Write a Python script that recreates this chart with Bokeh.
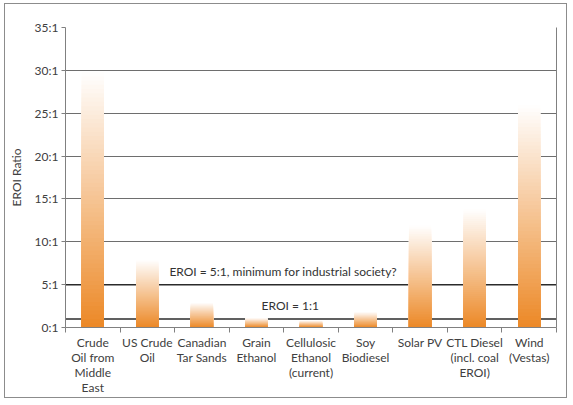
from bokeh.plotting import figure
from bokeh.models import Range1d, LinearAxis, FixedTicker, Span, Label
from bokeh.embed import file_html
from bokeh.resources import INLINE

# data
categories = ["Crude\nOil from\nMiddle\nEast", "US Crude\nOil", "Canadian\nTar Sands",
              "Grain\nEthanol", "Cellulosic\nEthanol\n(current)", "Soy\nBiodiesel",
              "Solar PV", "CTL Diesel\n(incl. coal\nEROI)", "Wind\n(Vestas)"]
eroi = [29.8, 7.9, 2.9, 1.1, 0.8, 1.8, 11.9, 13.8, 26.0]
y_ticks = [0, 5, 10, 15, 20, 25, 30, 35]
y_tick_labels = ["0:1", "5:1", "10:1", "15:1", "20:1", "25:1", "30:1", "35:1"]
grid_values = [10, 15, 20, 25, 30]
thresholds = [5, 1]
threshold_labels = ["EROI = 5:1, minimum for industrial society?", "EROI = 1:1"]

FONT = "Lato"
TXT = "#404040"

p = figure(width=563, height=395, output_backend="svg", toolbar_location=None,
           x_range=Range1d(0, len(categories)), y_range=Range1d(0, 35),
           min_border_left=59, min_border_right=12, min_border_top=23, min_border_bottom=72,
           styles={"border": "1px solid #8c8c8c", "margin-left": "4px", "margin-top": "3px"})
p.outline_line_color = None
p.background_fill_color = "white"

# x axis: labels at category centres, ticks at category boundaries
xcent = [i + 0.5 for i in range(len(categories))]
p.xaxis.ticker = FixedTicker(ticks=xcent, minor_ticks=list(range(len(categories) + 1)))
p.xaxis.major_label_overrides = {x: c for x, c in zip(xcent, categories)}
p.xaxis.major_tick_line_color = None
p.xaxis.major_tick_out = 0
p.xaxis.minor_tick_in = 0
p.xaxis.minor_tick_out = 5
p.xaxis.minor_tick_line_color = "#808080"
p.xaxis.axis_line_color = "#808080"
p.xaxis.major_label_standoff = 2
p.xaxis.major_label_text_font = FONT
p.xaxis.major_label_text_font_size = "12px"
p.xaxis.major_label_text_color = TXT
p.xaxis.major_label_text_line_height = 1.0

# y axis
p.yaxis.ticker = FixedTicker(ticks=y_ticks)
p.yaxis.major_label_overrides = {t: l for t, l in zip(y_ticks, y_tick_labels)}
p.yaxis.minor_tick_line_color = None
p.yaxis.major_tick_in = 0
p.yaxis.major_tick_out = 4
p.yaxis.major_tick_line_color = "#808080"
p.yaxis.axis_line_color = "#808080"
p.yaxis.major_label_standoff = 3
p.yaxis.major_label_text_font = FONT
p.yaxis.major_label_text_font_size = "12px"
p.yaxis.major_label_text_color = TXT
p.yaxis.axis_label = "EROI Ratio"
p.yaxis.axis_label_text_font = FONT
p.yaxis.axis_label_text_font_style = "normal"
p.yaxis.axis_label_text_font_size = "12px"
p.yaxis.axis_label_text_color = TXT
p.yaxis.axis_label_standoff = 8

right = LinearAxis(ticker=FixedTicker(ticks=[]), axis_line_color="#808080",
                   major_tick_line_color=None, minor_tick_line_color=None,
                   major_label_text_font_size="0px")
p.add_layout(right, "right")

p.xgrid.grid_line_color = None
p.ygrid.ticker = FixedTicker(ticks=grid_values)
p.ygrid.grid_line_color = "#6e6e6e"
p.ygrid.grid_line_width = 1

for t in thresholds:
    p.add_layout(Span(location=t, dimension="width", line_color="#2b2b2b",
                      line_width=1.5, level="underlay"))

# bars with a vertical orange -> white gradient: nested quads from the base,
# tallest (lightest) first so each shorter, darker one sits on top
N = 60
c0 = (236, 136, 38)
c1 = (255, 255, 255)
left, rgt, bot, top, cols = [], [], [], [], []
for k in range(N, 0, -1):
    t = (k - 0.5) / N
    col = "#%02x%02x%02x" % tuple(int(round(a + (b - a) * t)) for a, b in zip(c0, c1))
    for x, v in zip(xcent, eroi):
        left.append(x - 0.205)
        rgt.append(x + 0.205)
        bot.append(0)
        top.append(v * k / N)
        cols.append(col)
p.quad(left=left, right=rgt, bottom=bot, top=top, fill_color=cols, line_color=None)

p.add_layout(Label(x=3.99, y=6.5, text=threshold_labels[0], text_align="center",
                   text_baseline="middle", text_font=FONT, text_font_size="12px",
                   text_color="#333333"))
p.add_layout(Label(x=4.12, y=2.54, text=threshold_labels[1], text_align="center",
                   text_baseline="middle", text_font=FONT, text_font_size="12px",
                   text_color="#333333"))

open("out.html", "w").write(file_html(p, INLINE))
